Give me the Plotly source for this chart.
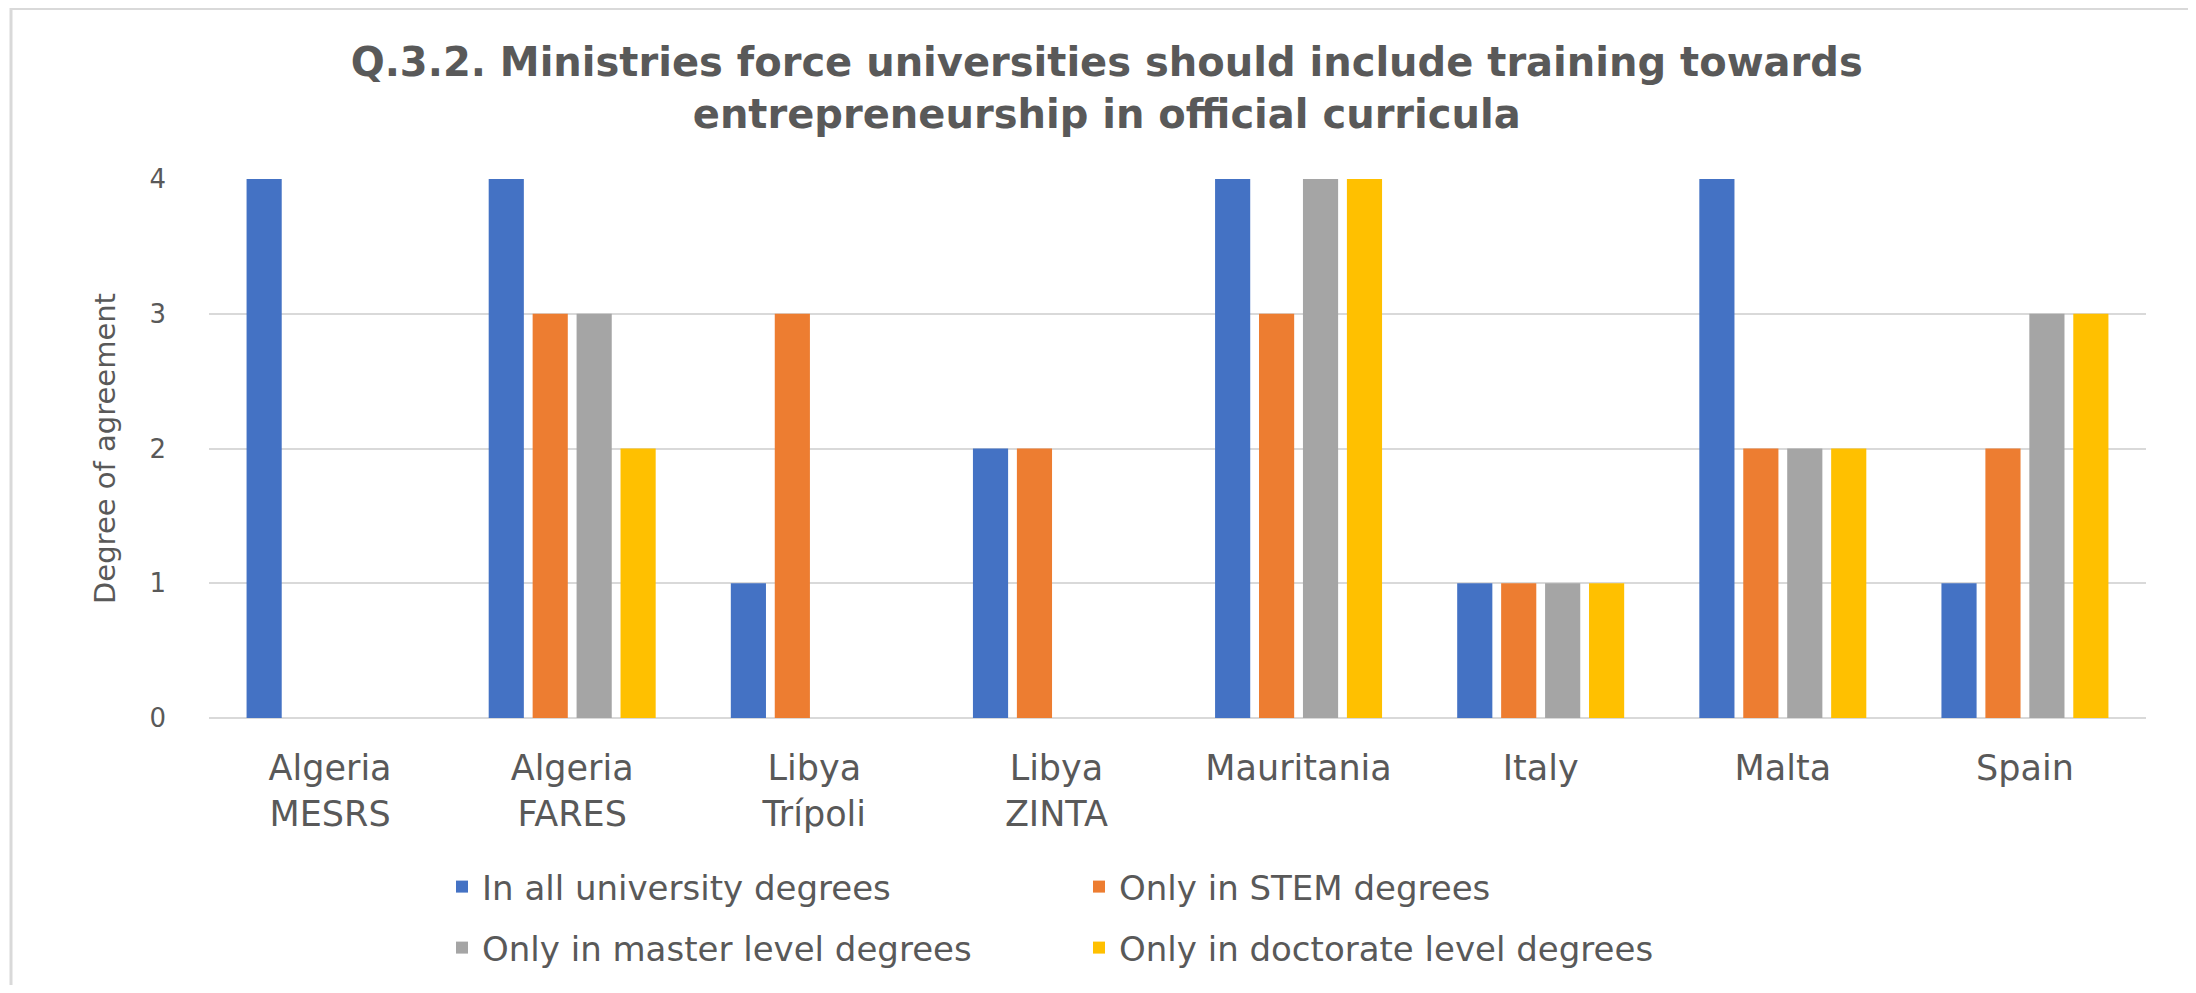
import plotly.graph_objects as go

# chart data
categories = ["Algeria<br>MESRS", "Algeria<br>FARES", "Libya<br>Trípoli", "Libya<br>ZINTA",
              "Mauritania", "Italy", "Malta", "Spain"]
all_degrees = [4, 4, 1, 2, 4, 1, 4, 1]
stem_only = [0, 3, 3, 2, 3, 1, 2, 2]
master_only = [0, 3, 0, 0, 4, 1, 2, 3]
doctorate_only = [0, 2, 0, 0, 4, 1, 2, 3]

series = [
    ("In all university degrees", all_degrees, "#4472C4", "legend"),
    ("Only in STEM degrees", stem_only, "#ED7D31", "legend"),
    ("Only in master level degrees", master_only, "#A5A5A5", "legend2"),
    ("Only in doctorate level degrees", doctorate_only, "#FFC000", "legend2"),
]

TXT = "#595959"
FONT = "DejaVu Sans, Open Sans, sans-serif"

# the page body has an 8px margin, so the figure is a bit smaller than the window
W, H = 2180, 977
L, R, T, B = 201, 42, 171, 267
PW, PH = W - L - R, H - T - B

fig = go.Figure()
for name, vals, col, leg in series:
    fig.add_trace(go.Bar(x=categories, y=vals, name=name, marker_color=col,
                         marker_line_width=0, legend=leg))

legend_common = dict(orientation="h", xanchor="left", yanchor="middle",
                     entrywidth=592, entrywidthmode="pixels",
                     font=dict(family=FONT, size=34, color=TXT),
                     bgcolor="rgba(0,0,0,0)", traceorder="normal")

fig.update_layout(
    width=W, height=H,
    margin=dict(l=L, r=R, t=T, b=B, autoexpand=False),
    paper_bgcolor="white", plot_bgcolor="white",
    barmode="group", bargap=0.274, bargroupgap=0.2,
    title=dict(text="<b>Q.3.2. Ministries force universities should include training towards<br>"
                    "entrepreneurship in official curricula</b>",
               x=0.504, xanchor="center", y=1 - 68 / H, yanchor="middle",
               font=dict(family=FONT, size=40, color=TXT)),
    legend=dict(x=(434 - L) / PW, y=(H - B - 879) / PH, **legend_common),
    legend2=dict(x=(434 - L) / PW, y=(H - B - 940) / PH, **legend_common),
    showlegend=True,
)

fig.update_xaxes(tickfont=dict(family=FONT, size=35, color=TXT), showgrid=False,
                 showline=False, ticks="", ticklabelstandoff=26, automargin=False)
fig.update_yaxes(range=[0, 4], dtick=1, showgrid=True, gridcolor="#D9D9D9", gridwidth=2,
                 zeroline=True, zerolinecolor="#D9D9D9", zerolinewidth=2,
                 tickfont=dict(family=FONT, size=26, color=TXT), ticklabelstandoff=42,
                 automargin=False,
                 title=dict(text="Degree of agreement", standoff=25,
                            font=dict(family=FONT, size=29, color=TXT)))

# chart frame
fig.add_shape(type="rect", xref="paper", yref="paper",
              x0=(3 - L) / PW, x1=(W + 20 - L) / PW,
              y0=(H - B - H - 20) / PH, y1=(H - B - 0.5) / PH,
              line=dict(color="#D9D9D9", width=3), fillcolor="rgba(0,0,0,0)", layer="below")

fig.write_html("out.html")
